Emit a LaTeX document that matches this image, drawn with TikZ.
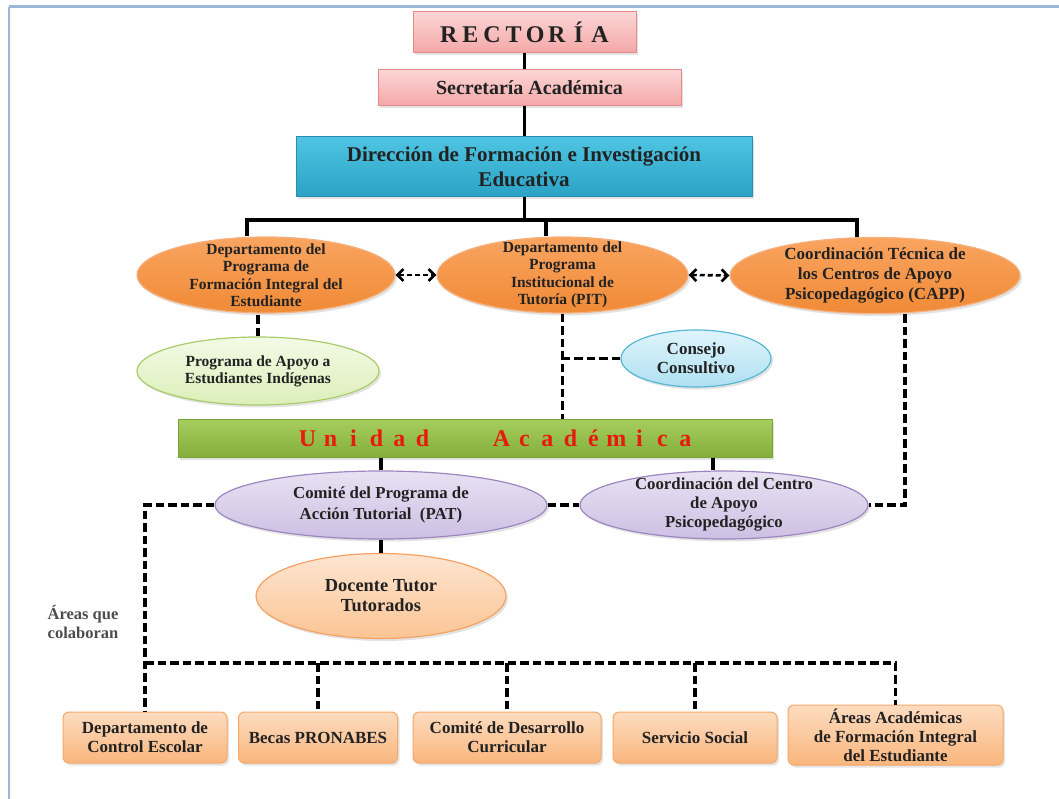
\documentclass[tikz,border=0pt]{standalone}
\usepackage{fontspec}
\setmainfont{Liberation Serif}
\usetikzlibrary{shapes.geometric,arrows.meta,shadows}
\definecolor{txt}{HTML}{222222}
\definecolor{pinktop}{HTML}{FBD5D5}
\definecolor{pinkbot}{HTML}{F4A7A7}
\definecolor{pinkborder}{HTML}{E58A8A}
\definecolor{bluetop}{HTML}{4FC5E3}
\definecolor{bluebot}{HTML}{2BA2C5}
\definecolor{blueborder}{HTML}{2A8DB0}
\definecolor{ortop}{HTML}{F9A460}
\definecolor{orbot}{HTML}{F08A36}
\definecolor{orborder}{HTML}{F5B07E}
\definecolor{grtop}{HTML}{F3FAE6}
\definecolor{grbot}{HTML}{DCEFB9}
\definecolor{grborder}{HTML}{A9CB6A}
\definecolor{cytop}{HTML}{E0F4FB}
\definecolor{cybot}{HTML}{AEE0F2}
\definecolor{cyborder}{HTML}{58B6D3}
\definecolor{lvtop}{HTML}{E8E2F3}
\definecolor{lvbot}{HTML}{CDBFE3}
\definecolor{lvborder}{HTML}{9D86C0}
\definecolor{pchtop}{HTML}{FDE5D1}
\definecolor{pchbot}{HTML}{FBC594}
\definecolor{pchborder}{HTML}{F4A163}
\definecolor{bxtop}{HTML}{FDDCC0}
\definecolor{bxbot}{HTML}{F9B67D}
\definecolor{bxborder}{HTML}{F6A868}
\definecolor{untop}{HTML}{A6CE5E}
\definecolor{unbot}{HTML}{84AF3C}
\definecolor{unborder}{HTML}{7BA33A}
\definecolor{unred}{HTML}{E8190E}
\definecolor{framec}{HTML}{9DB7D9}
\newcommand\rltr[1]{\makebox[21.6pt]{#1}}
\newcommand\ultr[1]{\makebox[23pt]{#1}}
\newcommand\fs[2]{\fontsize{#1}{#2}\selectfont\bfseries}
\tikzset{
  conn/.style={line width=3.2pt, black},
  dconn/.style={line width=3.6pt, black, dash pattern=on 8.5pt off 4pt},
  arr/.style={line width=2.6pt, black, dash pattern=on 5pt off 3pt,
    {Straight Barb[length=6pt,width=12pt,line width=2.6pt]}-{Straight Barb[length=6pt,width=12pt,line width=2.6pt]}},
  shdw/.style={drop shadow={shadow xshift=2pt,shadow yshift=-2.5pt,opacity=0.22}},
  rbox/.style={rectangle, inner sep=0pt, align=center, text=txt, line width=1pt, shdw},
  pinkbox/.style={rbox, draw=pinkborder, top color=pinktop, bottom color=pinkbot},
  bluebox/.style={rbox, draw=blueborder, top color=bluetop, bottom color=bluebot},
  oval/.style={ellipse, inner sep=0pt, line width=1.2pt, shdw},
  orov/.style={oval, draw=orborder, top color=ortop, bottom color=orbot},
  grov/.style={oval, draw=grborder, top color=grtop, bottom color=grbot},
  cyov/.style={oval, draw=cyborder, top color=cytop, bottom color=cybot},
  lvov/.style={oval, draw=lvborder, top color=lvtop, bottom color=lvbot},
  pchov/.style={oval, draw=pchborder, top color=pchtop, bottom color=pchbot},
  botbox/.style={rbox, rounded corners=6pt, draw=bxborder, top color=bxtop, bottom color=bxbot,
    minimum height=51pt, font=\fs{17}{19}},
  lbl/.style={align=center, text=txt, inner sep=0pt},
}
\begin{document}
\begin{tikzpicture}[x=1pt,y=-1pt]
\useasboundingbox (0,0) rectangle (1059,799);
% frame
\draw[framec, line width=3pt] (9,7) -- (1059,7);
\draw[framec, line width=2pt] (9,7) -- (9,799);

% top hierarchy
\node[pinkbox, minimum width=223pt, minimum height=41pt, font=\fs{24}{28}] (rect) at (524.5,32.5)
  {\rltr{R}\rltr{E}\rltr{C}\rltr{T}\rltr{O}\rltr{R}\rltr{Í}\rltr{A}};
\node[pinkbox, minimum width=303pt, minimum height=36pt, font=\fs{20}{24}] (sec) at (529.5,88)
  {Secretaría Académica};
\node[bluebox, minimum width=456pt, minimum height=60pt, font=\fs{21}{25}] (dir) at (524,167)
  {Dirección de Formación e Investigación\\Educativa};

% second level ellipses
\node[orov, minimum width=258pt, minimum height=76pt,
  label={[lbl, font=\fs{15.5}{17.5}]center:{Departamento del\\Programa de\\Formación Integral del\\Estudiante}}]
  (e1) at (266,275) {};
\node[orov, minimum width=251pt, minimum height=76pt,
  label={[lbl, font=\fs{15.5}{17.5}]center:{Departamento del\\Programa\\Institucional de\\Tutoría (PIT)}}]
  (e2) at (562.5,275) {};
\node[orov, minimum width=290pt, minimum height=76pt,
  label={[lbl, font=\fs{17}{20}]center:{Coordinación Técnica de\\los Centros de Apoyo\\Psicopedagógico (CAPP)}}]
  (e3) at (875,275.5) {};

\node[grov, minimum width=242pt, minimum height=68pt,
  label={[lbl, font=\fs{15.5}{17}]center:{Programa de Apoyo a\\Estudiantes Indígenas}}]
  (pai) at (258,371) {};
\node[cyov, minimum width=150pt, minimum height=57pt,
  label={[lbl, font=\fs{17}{19}]center:{Consejo\\Consultivo}}]
  (cc) at (696,358.5) {};

% Unidad Academica
\node[rbox, draw=unborder, top color=untop, bottom color=unbot, minimum width=594pt, minimum height=38pt,
  label={[lbl, text=unred, font=\fs{24}{28}, xshift=21.5pt]center:{\ultr{U}\ultr{n}\ultr{i}\ultr{d}\ultr{a}\ultr{d}\hspace{56pt}\ultr{A}\ultr{c}\ultr{a}\ultr{d}\ultr{é}\ultr{m}\ultr{i}\ultr{c}\ultr{a}}}]
  (ua) at (475,438) {};

\node[lvov, minimum width=332pt, minimum height=68pt,
  label={[lbl, font=\fs{16.8}{20.5}]center:{Comité del Programa de\\Acción Tutorial \ (PAT)}}]
  (com) at (381,505) {};
\node[lvov, minimum width=288pt, minimum height=68pt,
  label={[lbl, font=\fs{16.8}{19}]center:{Coordinación del Centro\\de Apoyo\\Psicopedagógico}}]
  (cdc) at (724,505) {};
\node[pchov, minimum width=250pt, minimum height=85pt,
  label={[lbl, font=\fs{18.4}{20}]center:{Docente Tutor\\Tutorados}}]
  (doc) at (381,596) {};

\node[lbl, text=black!70, font=\fs{16.5}{19}] (areas) at (83,622) {Áreas que\\colaboran};

% bottom boxes
\node[botbox, minimum width=164pt] (b1) at (145,737.5) {Departamento de\\Control Escolar};
\node[botbox, minimum width=159pt] (b2) at (318,737.5) {Becas PRONABES};
\node[botbox, minimum width=188pt] (b3) at (507,737.5) {Comité de Desarrollo\\Curricular};
\node[botbox, minimum width=164pt] (b4) at (695,737.5) {Servicio Social};
\node[botbox, minimum width=215pt, minimum height=60pt] (b5) at (895.5,735) {Áreas Académicas\\de Formación Integral\\del Estudiante};

% helper coordinates
\coordinate (hy) at (0,220);
\coordinate (d1) at (247,0);
\coordinate (d2) at (546,0);
\coordinate (d3) at (857,0);
\coordinate (capx) at (905,0);
\coordinate (ucx) at (713,0);
\coordinate (by) at (0,663);

% solid connectors
\draw[conn] (rect.south) -- (rect.south |- sec.north);
\draw[conn] (rect.south |- sec.south) -- (rect.south |- dir.north);
\draw[conn] (rect.south |- dir.south) -- (rect.south |- hy);
\draw[conn] (d1 |- e1.north) -- (d1 |- hy) -- (d3 |- hy) -- (d3 |- e3.north);
\draw[conn] (d2 |- hy) -- (d2 |- e2.north);
\draw[conn] (com.north) -- (com.north |- ua.south);
\draw[conn] (ucx |- ua.south) -- (ucx |- cdc.north);
\draw[conn] (doc.north) -- (doc.north |- com.south);

% dashed arrows
\draw[arr] (e1.east) -- (e2.west);
\draw[arr] (e2.east) -- (e3.west);

% dashed connectors
\draw[dconn] (pai.north) -- (pai.north |- e1.south);
\draw[dconn] (e2.south) -- (e2.south |- ua.north);
\draw[dconn] (cc.west) -- (cc.west -| e2.south);
\draw[dconn] (capx |- e3.south) -- (capx |- cdc.east) -- (cdc.east);
\draw[dconn] (com.east) -- (cdc.west);
\draw[dconn] (com.west) -| (b1.north);
\draw[dconn] (b1.north |- by) -| (b5.north);
\draw[dconn] (b2.north |- by) -- (b2.north);
\draw[dconn] (b3.north |- by) -- (b3.north);
\draw[dconn] (b4.north |- by) -- (b4.north);
\end{tikzpicture}
\end{document}
